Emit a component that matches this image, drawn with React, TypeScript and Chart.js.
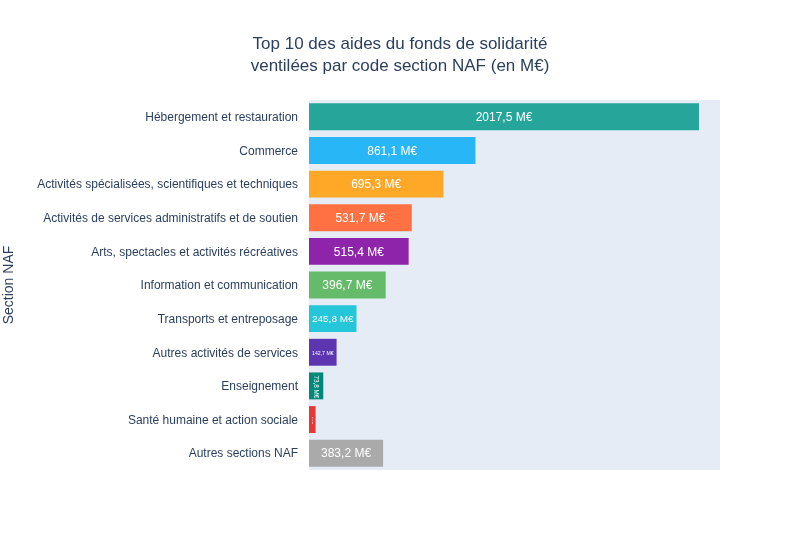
import React, { useEffect, useRef } from "react";
import { Chart, registerables } from "chart.js";

Chart.register(...registerables);

const categories = [
  "Hébergement et restauration",
  "Commerce",
  "Activités spécialisées, scientifiques et techniques",
  "Activités de services administratifs et de soutien",
  "Arts, spectacles et activités récréatives",
  "Information et communication",
  "Transports et entreposage",
  "Autres activités de services",
  "Enseignement",
  "Santé humaine et action sociale",
  "Autres sections NAF",
];
const values = [2017.5, 861.1, 695.3, 531.7, 515.4, 396.7, 245.8, 142.7, 73.8, 34.2, 383.2];
const valueLabels = [
  "2017,5 M€", "861,1 M€", "695,3 M€", "531,7 M€", "515,4 M€", "396,7 M€",
  "245,8 M€", "142,7 M€", "73,8 M€", "34,2 M€", "383,2 M€",
];
const colors = [
  "#26A69A", "#29B6F6", "#FFA726", "#FF7043", "#8E24AA", "#66BB6A",
  "#26C6DA", "#5E35B1", "#00897B", "#E53935", "#AAAAAA",
];
const titleLines = [
  "Top 10 des aides du fonds de solidarité",
  "ventilées par code section NAF (en M€)",
];
const axisTitle = "Section NAF";

const FONT = "'Liberation Sans', Arial, sans-serif";
const TXT = "#2a3f5f";

const bgPlugin = {
  id: "plotbg",
  beforeDraw(chart: any) {
    const { ctx, chartArea } = chart;
    ctx.save();
    ctx.fillStyle = "#E5ECF6";
    ctx.fillRect(chartArea.left, chartArea.top, chartArea.right - chartArea.left, chartArea.bottom - chartArea.top);
    ctx.restore();
  },
};

const titlePlugin = {
  id: "centeredTitle",
  afterDraw(chart: any) {
    const { ctx, width } = chart;
    ctx.save();
    ctx.fillStyle = TXT;
    ctx.font = `17px ${FONT}`;
    ctx.textAlign = "center";
    ctx.textBaseline = "middle";
    titleLines.forEach((line, i) => ctx.fillText(line, width / 2, 44.5 + i * 22));
    ctx.restore();
  },
};

const labelPlugin = {
  id: "barlabels",
  afterDatasetsDraw(chart: any) {
    const { ctx } = chart;
    const meta = chart.getDatasetMeta(0);
    meta.data.forEach((bar: any, i: number) => {
      const text = valueLabels[i];
      const w = Math.abs(bar.x - bar.base);
      const h = bar.height;
      const cx = (bar.x + bar.base) / 2;
      const cy = bar.y + 1;
      const base = 12;
      ctx.save();
      ctx.font = `${base}px ${FONT}`;
      const tw = ctx.measureText(text).width;
      const th = base;
      const pad = 6;
      const availW = w - pad;
      const availH = h - 4;
      const sH = Math.min(1, availW / tw, availH / th);
      const sV = Math.min(1, availH / tw, availW / th);
      let rotate = false;
      let s = sH;
      if (sV > sH * 1.3) {
        rotate = true;
        s = sV;
      }
      if (s <= 0) { ctx.restore(); return; }
      ctx.fillStyle = "#ffffff";
      ctx.textAlign = "center";
      ctx.textBaseline = "middle";
      ctx.font = `${Math.max(base * s, 2)}px ${FONT}`;
      ctx.translate(cx, cy);
      if (rotate) ctx.rotate(Math.PI / 2);
      ctx.fillText(text, 0, 0);
      ctx.restore();
    });
  },
};

export default function App() {
  const ref = useRef<HTMLCanvasElement | null>(null);
  useEffect(() => {
    if (!ref.current) return;
    const chart = new Chart(ref.current, {
      type: "bar",
      data: {
        labels: categories,
        datasets: [
          {
            data: values,
            backgroundColor: colors,
            borderWidth: 0,
            categoryPercentage: 1,
            barPercentage: 0.8,
          },
        ],
      },
      options: {
        indexAxis: "y",
        animation: false,
        responsive: false,
        maintainAspectRatio: false,
        layout: { padding: { left: 0, right: 80, top: 100, bottom: 80 } },
        plugins: {
          legend: { display: false },
          tooltip: { enabled: false },
          title: { display: false },
        },
        scales: {
          x: { display: false, min: 0, max: 2126 },
          y: {
            grid: { display: false, drawTicks: false },
            border: { display: false },
            ticks: { color: TXT, font: { family: FONT, size: 12 }, padding: 11, autoSkip: false, labelOffset: 1 },
            title: {
              display: true,
              text: axisTitle,
              color: TXT,
              font: { family: FONT, size: 14 },
              padding: { top: 1, bottom: 0 },
            },
            afterFit(scale: any) {
              scale.width = 309;
            },
          },
        },
      },
      plugins: [bgPlugin, labelPlugin, titlePlugin],
    });
    return () => chart.destroy();
  }, []);
  return (
    <div style={{ position: "fixed", left: 0, top: 0, width: 800, height: 550, background: "#fff" }}>
      <canvas ref={ref} width={800} height={550} style={{ display: "block" }} />
    </div>
  );
}
